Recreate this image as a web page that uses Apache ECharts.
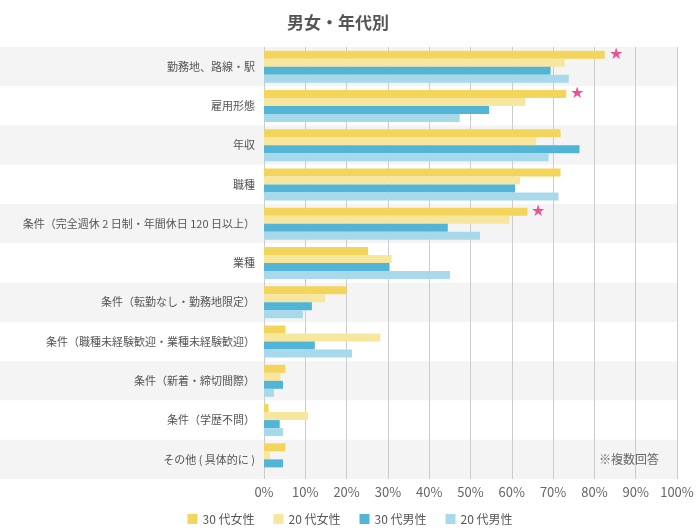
<!DOCTYPE html>
<html><head><meta charset="utf-8">
<script src="https://cdn.jsdelivr.net/npm/echarts@6/dist/echarts.min.js"></script>
<style>html,body{margin:0;padding:0;background:#fff}#c{width:700px;height:532px}</style>
</head><body><div id="c"></div>
<script>
const categories = ['勤務地、路線・駅','雇用形態','年収','職種','条件（完全週休 2 日制・年間休日 120 日以上）','業種','条件（転勤なし・勤務地限定）','条件（職種未経験歓迎・業種未経験歓迎）','条件（新着・締切間際）','条件（学歴不問）','その他 ( 具体的に )'];
const seriesNames = ['30 代女性','20 代女性','30 代男性','20 代男性'];
const female30 = [82.5, 73.2, 71.8, 71.8, 63.8, 25.2, 20.0, 5.2, 5.2, 1.1, 5.2];
const female20 = [72.8, 63.3, 65.9, 62.0, 59.4, 30.9, 14.8, 28.2, 4.0, 10.7, 1.4];
const male30   = [69.4, 54.5, 76.4, 60.8, 44.5, 30.4, 11.6, 12.3, 4.6, 3.8, 4.6];
const male20   = [73.8, 47.4, 68.9, 71.3, 52.3, 45.0, 9.4, 21.3, 2.4, 4.6, 0];
const starRows = [0, 1, 4];
const colors = ['#f3d55b','#f7e69d','#53b5d6','#a8d9ea'];
const values = [female30, female20, male30, male20];

const chart = echarts.init(document.getElementById('c'));
const G = {top: 47, bottom: 53};
chart.setOption({
  animation: false,
  title: {text: '男女・年代別', left: 333, top: 9, textAlign: 'center',
    textStyle: {fontSize: 17, fontWeight: 'bold', color: '#555', fontFamily: 'Noto Sans CJK JP'}},
  legend: {bottom: 2, left: 'center', itemWidth: 10, itemHeight: 10, itemGap: 19,
    icon: 'rect', data: seriesNames,
    textStyle: {fontSize: 12, color: '#555', fontFamily: 'Noto Sans CJK JP'}},
  grid: [
    {left: 0, right: 23, top: G.top, bottom: G.bottom},
    {left: 264, right: 23, top: G.top, bottom: G.bottom}
  ],
  xAxis: [
    {gridIndex: 0, type: 'value', show: false, min: 0, max: 100},
    {gridIndex: 1, type: 'value', min: 0, max: 100, interval: 10,
      axisLine: {show: false}, axisTick: {show: false},
      splitLine: {show: true, lineStyle: {color: '#cccccc', width: 1}},
      axisLabel: {formatter: '{value}%', color: '#666', fontSize: 13, margin: 7,
        fontFamily: 'Noto Sans CJK JP'}}
  ],
  yAxis: [
    {gridIndex: 0, type: 'category', data: categories, inverse: true,
      axisLine: {show: false}, axisTick: {show: false}, axisLabel: {show: false},
      splitArea: {show: true, areaStyle: {color: ['#f4f4f4', '#ffffff']}}},
    {gridIndex: 1, type: 'category', data: categories, inverse: true,
      axisLine: {show: false}, axisTick: {show: false},
      axisLabel: {color: '#555', fontSize: 11, margin: 9, fontFamily: 'Noto Sans CJK JP'}}
  ],
  graphic: [{type: 'text', left: 599, top: 453, z: 100,
    style: {text: '※複数回答', fill: '#666', fontSize: 12, fontFamily: 'Noto Sans CJK JP'}}],
  series: values.map((v, i) => ({
    name: seriesNames[i], type: 'bar', xAxisIndex: 1, yAxisIndex: 1,
    data: v, barWidth: 8, barGap: '0%',
    itemStyle: {color: colors[i]},
    label: i === 0 ? {show: true, position: 'right', distance: 4, color: '#e5558f', fontSize: 16,
      formatter: p => starRows.includes(p.dataIndex) ? '★' : ''} : {show: false}
  }))
});
</script></body></html>
